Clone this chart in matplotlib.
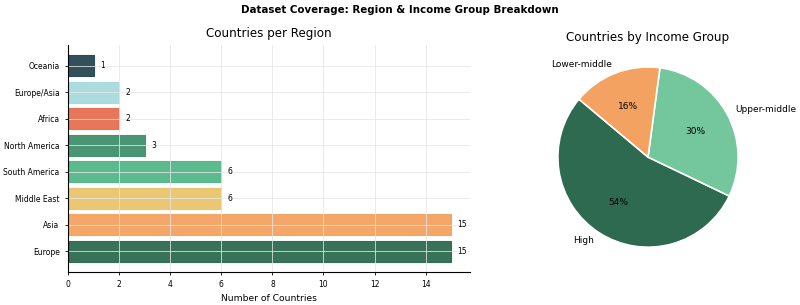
import matplotlib.pyplot as plt

# Region counts (bottom to top in the chart)
regions = ['Europe', 'Asia', 'Middle East', 'South America', 'North America',
           'Africa', 'Europe/Asia', 'Oceania']
region_counts = [15, 15, 6, 6, 3, 2, 2, 1]
region_colors = ['#2d6a4f', '#f4a261', '#e9c46a', '#52b788', '#40916c',
                 '#e76f51', '#a8dadc', '#264653']

# Income groups
income_groups = ['High', 'Upper-middle', 'Lower-middle']
income_counts = [27, 15, 8]
income_colors = ['#2d6a4f', '#74c69d', '#f4a261']

fig = plt.figure(figsize=(8, 3.05), dpi=100)
ax1 = fig.add_axes([0.085, 0.108, 0.503, 0.745])
ax2 = fig.add_axes([0.66, 0.16, 0.30, 0.65])

# Bar chart
bars = ax1.barh(regions, region_counts, color=region_colors, edgecolor=region_colors,
                alpha=0.95, height=0.8, linewidth=0.8)
for bar, val in zip(bars, region_counts):
    ax1.text(bar.get_width() + 0.25, bar.get_y() + bar.get_height() / 2, str(val),
             va='center', ha='left', fontsize=5.5)
ax1.set_title('Countries per Region', fontsize=8.6)
ax1.set_xlabel('Number of Countries', fontsize=6.6, labelpad=3)
ax1.tick_params(axis='both', labelsize=5.5, length=2.5, width=0.6)
ax1.grid(True, color='#e6e6e6', linewidth=0.7, alpha=0.8)
ax1.spines['top'].set_visible(False)
ax1.spines['right'].set_visible(False)
ax1.spines['left'].set_linewidth(0.8)
ax1.spines['bottom'].set_linewidth(0.8)

# Pie chart
ax2.pie(income_counts, labels=income_groups, colors=income_colors,
        autopct='%1.0f%%', startangle=140, pctdistance=0.6, labeldistance=1.1,
        wedgeprops={'edgecolor': 'white', 'linewidth': 1.2},
        textprops={'fontsize': 6.5})
ax2.set_title('Countries by Income Group', fontsize=8.6, pad=12)
ax2.axis('equal')

fig.suptitle('Dataset Coverage: Region & Income Group Breakdown',
             fontsize=7.4, fontweight='bold', y=0.985)

plt.savefig('out.png', dpi=100)
